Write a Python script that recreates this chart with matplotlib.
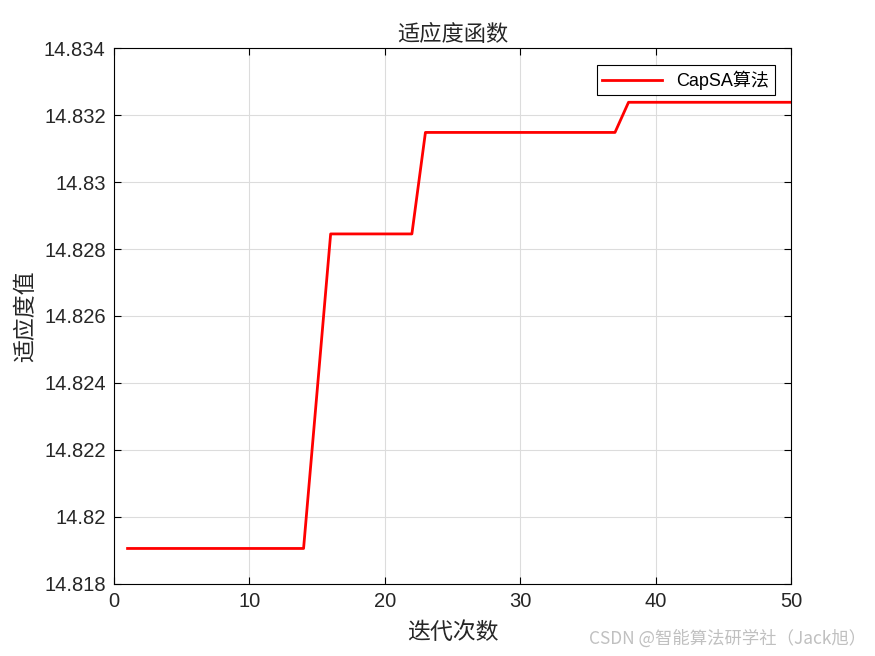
import matplotlib
matplotlib.use("Agg")
import matplotlib.pyplot as plt

plt.rcParams['font.family'] = ['Liberation Sans', 'Noto Sans CJK SC', 'DejaVu Sans']

iters = list(range(1, 51))
fitness = ([14.81906] * 14 + [14.82375] + [14.82845] * 7 +
           [14.83148] * 15 + [14.83238] * 13)

fig = plt.figure(figsize=(8.75, 6.56), dpi=100)
ax = fig.add_axes([0.1303, 0.1098, 0.7737, 0.817])
ax.plot(iters, fitness, color='red', lw=2, label='CapSA算法')

ax.set_xlim(0, 50)
ax.set_ylim(14.818, 14.834)
ax.set_xticks([0, 10, 20, 30, 40, 50])
ax.set_yticks([14.818, 14.82, 14.822, 14.824, 14.826, 14.828, 14.83, 14.832, 14.834])
ax.set_yticklabels(['14.818', '14.82', '14.822', '14.824', '14.826', '14.828',
                    '14.83', '14.832', '14.834'])
ax.tick_params(direction='in', top=True, right=True, labelsize=14.5, length=5,
               width=0.8, labelcolor='#262626', pad=6)
ax.grid(True, color='#dcdcdc', lw=0.8)
for s in ax.spines.values():
    s.set_linewidth(0.8)

cjk = ['Noto Sans CJK SC', 'DejaVu Sans']
ax.set_title('适应度函数', family=cjk, fontsize=16, color='#262626', pad=5)
ax.set_xlabel('迭代次数', family=cjk, fontsize=16.5, color='#262626', labelpad=7)
ax.set_ylabel('适应度值', family=cjk, fontsize=16.5, color='#262626', labelpad=5)

leg = ax.legend(loc='upper right', bbox_to_anchor=(0.984, 0.978), fontsize=13,
                fancybox=False, edgecolor='black', framealpha=1,
                handlelength=3.3, borderaxespad=0.3, borderpad=0.3)
leg.get_frame().set_linewidth(0.8)

fig.text(0.99, 0.012, 'CSDN @智能算法研学社（Jack旭）', ha='right', va='bottom',
         color='#c0c0c0', fontsize=12.5, family=cjk)

plt.savefig('out.png')
plt.close()
